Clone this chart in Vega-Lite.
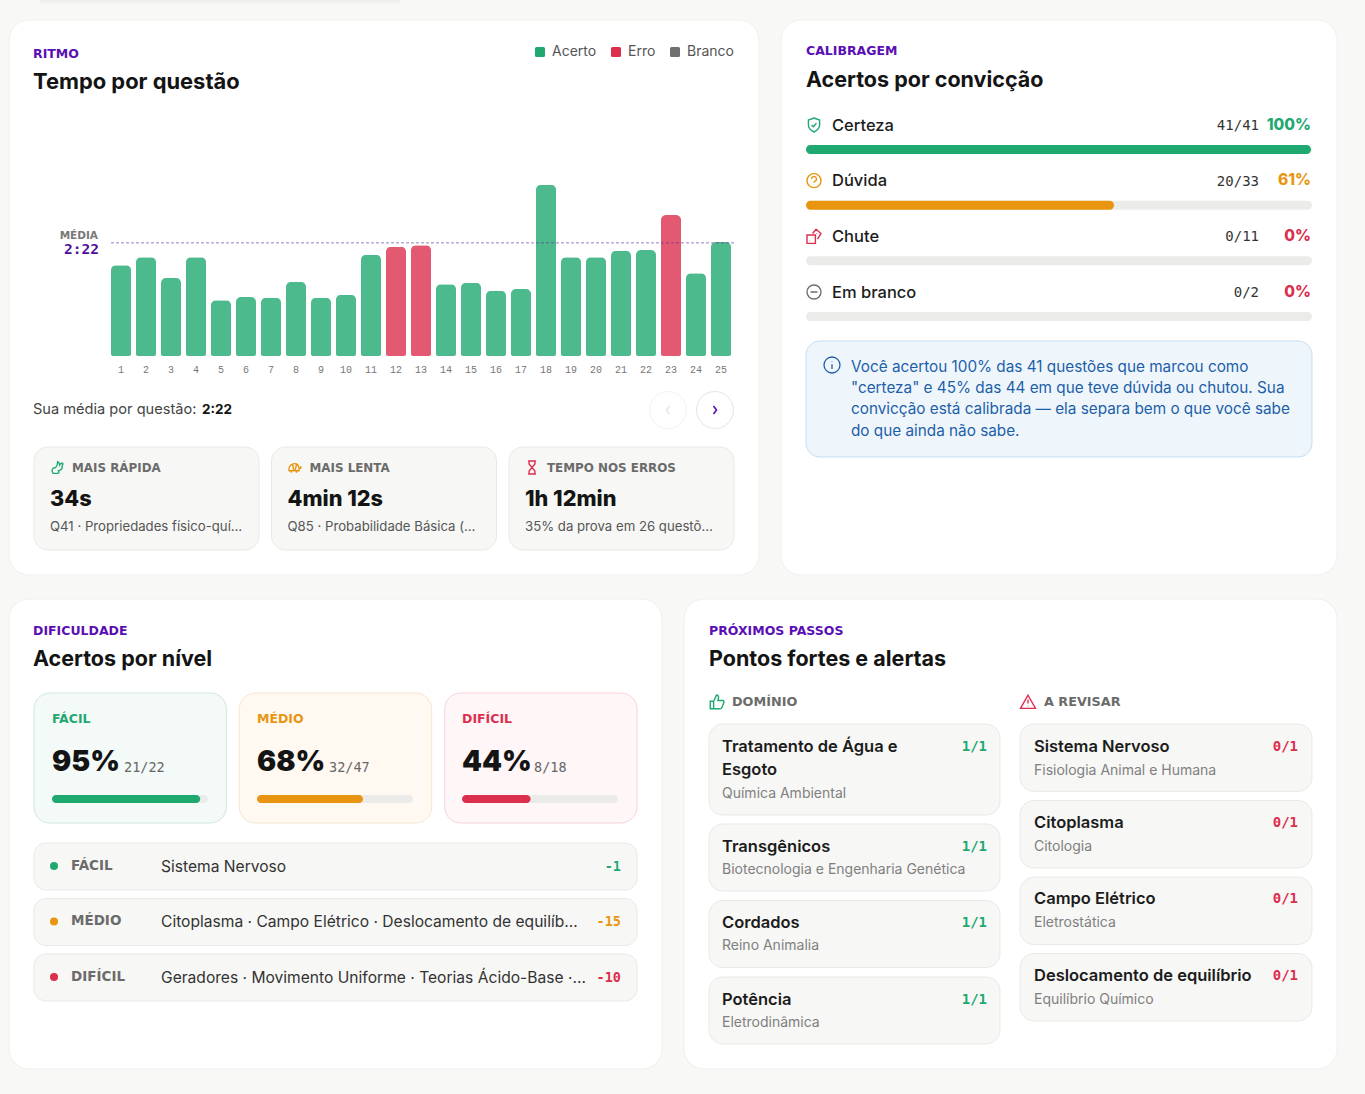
{
  "$schema": "https://vega.github.io/schema/vega-lite/v6.json",
  "autosize": "none",
  "padding": 0,
  "width": 1365,
  "height": 1094,
  "background": "#f8f8f6",
  "config": {
    "view": {"stroke": null},
    "axis": {"disable": true},
    "legend": {"disable": true},
    "scale": {"pointPadding": 0, "bandPaddingOuter": 0},
    "text": {"font": "Inter", "align": "left", "baseline": "middle"}
  },
  "resolve": {"scale": {"x": "independent", "y": "independent", "color": "independent", "fill": "independent", "stroke": "independent", "shape": "independent"}},
  "datasets": {
    "questoes": [
      {"q": "1", "segundos": 114, "resultado": "Acerto"},
      {"q": "2", "segundos": 124, "resultado": "Acerto"},
      {"q": "3", "segundos": 98, "resultado": "Acerto"},
      {"q": "4", "segundos": 124, "resultado": "Acerto"},
      {"q": "5", "segundos": 70, "resultado": "Acerto"},
      {"q": "6", "segundos": 74, "resultado": "Acerto"},
      {"q": "7", "segundos": 73, "resultado": "Acerto"},
      {"q": "8", "segundos": 93, "resultado": "Acerto"},
      {"q": "9", "segundos": 73, "resultado": "Acerto"},
      {"q": "10", "segundos": 77, "resultado": "Acerto"},
      {"q": "11", "segundos": 127, "resultado": "Acerto"},
      {"q": "12", "segundos": 137, "resultado": "Erro"},
      {"q": "13", "segundos": 139, "resultado": "Erro"},
      {"q": "14", "segundos": 90, "resultado": "Acerto"},
      {"q": "15", "segundos": 92, "resultado": "Acerto"},
      {"q": "16", "segundos": 82, "resultado": "Acerto"},
      {"q": "17", "segundos": 84, "resultado": "Acerto"},
      {"q": "18", "segundos": 215, "resultado": "Acerto"},
      {"q": "19", "segundos": 124, "resultado": "Acerto"},
      {"q": "20", "segundos": 124, "resultado": "Acerto"},
      {"q": "21", "segundos": 132, "resultado": "Acerto"},
      {"q": "22", "segundos": 133, "resultado": "Acerto"},
      {"q": "23", "segundos": 177, "resultado": "Erro"},
      {"q": "24", "segundos": 104, "resultado": "Acerto"},
      {"q": "25", "segundos": 143, "resultado": "Acerto"}
    ],
    "destaques": [
      {"rotulo": "MAIS RÁPIDA", "valor": "34s", "detalhe": "Q41 · Propriedades físico-quí…", "icone": "rapida"},
      {"rotulo": "MAIS LENTA", "valor": "4min 12s", "detalhe": "Q85 · Probabilidade Básica (…", "icone": "lenta"},
      {"rotulo": "TEMPO NOS ERROS", "valor": "1h 12min", "detalhe": "35% da prova em 26 questõ…", "icone": "erros"}
    ],
    "conviccao": [
      {"nome": "Certeza", "placar": "41/41", "pct": 100, "rotulo": "100%"},
      {"nome": "Dúvida", "placar": "20/33", "pct": 61, "rotulo": "61%"},
      {"nome": "Chute", "placar": "0/11", "pct": 0, "rotulo": "0%"},
      {"nome": "Em branco", "placar": "0/2", "pct": 0, "rotulo": "0%"}
    ],
    "niveis": [
      {"nivel": "FÁCIL", "pct": 95, "rotulo": "95%", "placar": "21/22", "temas": "Sistema Nervoso", "delta": "-1"},
      {"nivel": "MÉDIO", "pct": 68, "rotulo": "68%", "placar": "32/47", "temas": "Citoplasma · Campo Elétrico · Deslocamento de equilíb…", "delta": "-15"},
      {"nivel": "DIFÍCIL", "pct": 44, "rotulo": "44%", "placar": "8/18", "temas": "Geradores · Movimento Uniforme · Teorias Ácido-Base ·…", "delta": "-10"}
    ],
    "dominio": [
      {"tema": "Tratamento de Água e\nEsgoto", "area": "Química Ambiental", "placar": "1/1", "linhas": 2},
      {"tema": "Transgênicos", "area": "Biotecnologia e Engenharia Genética", "placar": "1/1", "linhas": 1},
      {"tema": "Cordados", "area": "Reino Animalia", "placar": "1/1", "linhas": 1},
      {"tema": "Potência", "area": "Eletrodinâmica", "placar": "1/1", "linhas": 1}
    ],
    "revisar": [
      {"tema": "Sistema Nervoso", "area": "Fisiologia Animal e Humana", "placar": "0/1"},
      {"tema": "Citoplasma", "area": "Citologia", "placar": "0/1"},
      {"tema": "Campo Elétrico", "area": "Eletrostática", "placar": "0/1"},
      {"tema": "Deslocamento de equilíbrio", "area": "Equilíbrio Químico", "placar": "0/1"}
    ]
  },
  "layer": [
    {"data": {"values": [{"c": "sombra"}]}, "mark": {"type": "rect", "color": {"gradient": "linear", "x1": 0, "y1": 0, "x2": 0, "y2": 1, "stops": [{"offset": 0, "color": "#eeeeed"}, {"offset": 1, "color": "#f8f8f6"}]}}, "encoding": {"x": {"field": "c", "type": "nominal", "scale": {"range": [40, 400]}}, "y": {"field": "c", "type": "nominal", "scale": {"range": [0, 6]}}}},
    {"data": {"values": [{"c": "ritmo"}]}, "mark": {"type": "rect", "fill": "#ffffff", "stroke": "#f0f0ee", "cornerRadius": 20}, "encoding": {"x": {"field": "c", "type": "nominal", "scale": {"range": [9, 759]}}, "y": {"field": "c", "type": "nominal", "scale": {"range": [20, 575]}}}},
    {"data": {"values": [{"c": "calibragem"}]}, "mark": {"type": "rect", "fill": "#ffffff", "stroke": "#f0f0ee", "cornerRadius": 20}, "encoding": {"x": {"field": "c", "type": "nominal", "scale": {"range": [781, 1337]}}, "y": {"field": "c", "type": "nominal", "scale": {"range": [20, 575]}}}},
    {"data": {"values": [{"c": "dificuldade"}]}, "mark": {"type": "rect", "fill": "#ffffff", "stroke": "#f0f0ee", "cornerRadius": 20}, "encoding": {"x": {"field": "c", "type": "nominal", "scale": {"range": [9, 662]}}, "y": {"field": "c", "type": "nominal", "scale": {"range": [599, 1069]}}}},
    {"data": {"values": [{"c": "passos"}]}, "mark": {"type": "rect", "fill": "#ffffff", "stroke": "#f0f0ee", "cornerRadius": 20}, "encoding": {"x": {"field": "c", "type": "nominal", "scale": {"range": [684, 1337]}}, "y": {"field": "c", "type": "nominal", "scale": {"range": [599, 1069]}}}},

    {"data": {"values": [{"t": "RITMO"}]}, "mark": {"type": "text", "font": "DejaVu Sans", "fontWeight": 700, "fontSize": 12.5, "color": "#5a0fb4"}, "encoding": {"text": {"field": "t"}, "x": {"field": "t", "type": "nominal", "scale": {"range": [33, 33]}}, "y": {"field": "t", "type": "nominal", "scale": {"range": [53.5, 53.5]}}}},
    {"data": {"values": [{"t": "Tempo por questão"}]}, "mark": {"type": "text", "fontWeight": 700, "fontSize": 21.9, "color": "#141414"}, "encoding": {"text": {"field": "t"}, "x": {"field": "t", "type": "nominal", "scale": {"range": [33, 33]}}, "y": {"field": "t", "type": "nominal", "scale": {"range": [82, 82]}}}},
    {"data": {"values": [{"t": "CALIBRAGEM"}]}, "mark": {"type": "text", "font": "DejaVu Sans", "fontWeight": 700, "fontSize": 12.5, "color": "#5a0fb4"}, "encoding": {"text": {"field": "t"}, "x": {"field": "t", "type": "nominal", "scale": {"range": [806, 806]}}, "y": {"field": "t", "type": "nominal", "scale": {"range": [50.5, 50.5]}}}},
    {"data": {"values": [{"t": "Acertos por convicção"}]}, "mark": {"type": "text", "fontWeight": 700, "fontSize": 21.5, "color": "#141414"}, "encoding": {"text": {"field": "t"}, "x": {"field": "t", "type": "nominal", "scale": {"range": [806, 806]}}, "y": {"field": "t", "type": "nominal", "scale": {"range": [81, 81]}}}},
    {"data": {"values": [{"t": "DIFICULDADE"}]}, "mark": {"type": "text", "font": "DejaVu Sans", "fontWeight": 700, "fontSize": 12.5, "color": "#5a0fb4"}, "encoding": {"text": {"field": "t"}, "x": {"field": "t", "type": "nominal", "scale": {"range": [33, 33]}}, "y": {"field": "t", "type": "nominal", "scale": {"range": [630.5, 630.5]}}}},
    {"data": {"values": [{"t": "Acertos por nível"}]}, "mark": {"type": "text", "fontWeight": 700, "fontSize": 21.5, "color": "#141414"}, "encoding": {"text": {"field": "t"}, "x": {"field": "t", "type": "nominal", "scale": {"range": [33, 33]}}, "y": {"field": "t", "type": "nominal", "scale": {"range": [659.5, 659.5]}}}},
    {"data": {"values": [{"t": "PRÓXIMOS PASSOS"}]}, "mark": {"type": "text", "font": "DejaVu Sans", "fontWeight": 700, "fontSize": 12.5, "color": "#5a0fb4"}, "encoding": {"text": {"field": "t"}, "x": {"field": "t", "type": "nominal", "scale": {"range": [709, 709]}}, "y": {"field": "t", "type": "nominal", "scale": {"range": [630.5, 630.5]}}}},
    {"data": {"values": [{"t": "Pontos fortes e alertas"}]}, "mark": {"type": "text", "fontWeight": 700, "fontSize": 21.5, "color": "#141414"}, "encoding": {"text": {"field": "t"}, "x": {"field": "t", "type": "nominal", "scale": {"range": [709, 709]}}, "y": {"field": "t", "type": "nominal", "scale": {"range": [659.5, 659.5]}}}},

    {"data": {"name": "questoes"}, "mark": {"type": "bar", "opacity": 0.8, "cornerRadiusTopLeft": 5, "cornerRadiusTopRight": 5, "cornerRadiusBottomLeft": 2, "cornerRadiusBottomRight": 2}, "encoding": {
      "x": {"field": "q", "type": "nominal", "sort": null, "scale": {"type": "band", "range": [108.5, 733.5], "paddingInner": 0.2, "paddingOuter": 0.1}},
      "y": {"field": "segundos", "type": "quantitative", "scale": {"domain": [0, 300], "range": [356, 117]}},
      "color": {"field": "resultado", "type": "nominal", "scale": {"domain": ["Acerto", "Erro", "Branco"], "range": ["#1fa971", "#dc2f4e", "#6f6f6f"]}, "legend": {"disable": false, "title": null, "orient": "none", "legendX": 533, "legendY": 45, "direction": "horizontal", "symbolType": "M-0.7,-1 H0.7 Q1,-1 1,-0.7 V0.7 Q1,1 0.7,1 H-0.7 Q-1,1 -1,0.7 V-0.7 Q-1,-1 -0.7,-1 Z", "symbolSize": 100, "symbolOpacity": 1, "symbolStrokeWidth": 0, "labelFont": "Inter", "labelFontSize": 14, "labelColor": "#555555", "columnPadding": 12, "labelOffset": 5, "gridAlign": "each"}}
    }},
    {"data": {"values": [{"rotulo": "média", "segundos": 142, "de": 0, "ate": 25}]}, "mark": {"type": "rule", "color": "#5a2a9a", "strokeDash": [3, 2], "strokeWidth": 1, "opacity": 0.6}, "encoding": {
      "x": {"field": "de", "type": "quantitative", "scale": {"domain": [0, 25], "range": [111, 734]}},
      "x2": {"field": "ate"},
      "y": {"field": "segundos", "type": "quantitative", "scale": {"domain": [0, 300], "range": [356, 117]}}
    }},
    {"data": {"values": [{"t": "MÉDIA"}]}, "mark": {"type": "text", "align": "right", "font": "DejaVu Sans", "fontWeight": 700, "fontSize": 10.5, "color": "#777777"}, "encoding": {"text": {"field": "t"}, "x": {"field": "t", "type": "nominal", "scale": {"range": [98, 98]}}, "y": {"field": "t", "type": "nominal", "scale": {"range": [235.5, 235.5]}}}},
    {"data": {"values": [{"t": "2:22"}]}, "mark": {"type": "text", "align": "right", "font": "DejaVu Sans Mono", "fontWeight": 700, "fontSize": 14.5, "color": "#4b0f9e"}, "encoding": {"text": {"field": "t"}, "x": {"field": "t", "type": "nominal", "scale": {"range": [99, 99]}}, "y": {"field": "t", "type": "nominal", "scale": {"range": [250, 250]}}}},
    {"data": {"name": "questoes"}, "mark": {"type": "text", "align": "center", "font": "Liberation Mono", "fontSize": 10, "color": "#777777"}, "encoding": {"text": {"field": "q"}, "x": {"field": "q", "type": "nominal", "sort": null, "scale": {"range": [121, 721]}}, "y": {"field": "q", "type": "nominal", "scale": {"range": [370, 370]}}}},
    {"data": {"values": [{"t": "Sua média por questão:"}]}, "mark": {"type": "text", "fontSize": 14.6, "color": "#444444"}, "encoding": {"text": {"field": "t"}, "x": {"field": "t", "type": "nominal", "scale": {"range": [33, 33]}}, "y": {"field": "t", "type": "nominal", "scale": {"range": [409.5, 409.5]}}}},
    {"data": {"values": [{"t": "2:22"}]}, "mark": {"type": "text", "fontSize": 13.5, "fontWeight": 700, "color": "#141414"}, "encoding": {"text": {"field": "t"}, "x": {"field": "t", "type": "nominal", "scale": {"range": [202, 202]}}, "y": {"field": "t", "type": "nominal", "scale": {"range": [409.5, 409.5]}}}},
    {"data": {"values": [{"botao": "anterior"}, {"botao": "proxima"}]}, "mark": {"type": "point", "shape": "circle", "size": 1369, "filled": true, "fill": "#ffffff", "strokeWidth": 1}, "encoding": {
      "x": {"field": "botao", "type": "nominal", "sort": null, "scale": {"range": [668, 715]}},
      "y": {"field": "botao", "type": "nominal", "scale": {"range": [410, 410]}},
      "stroke": {"field": "botao", "type": "nominal", "scale": {"domain": ["anterior", "proxima"], "range": ["#efefef", "#dcdcdc"]}}
    }},
    {"data": {"values": [{"botao": "anterior"}, {"botao": "proxima"}]}, "mark": {"type": "point", "filled": false, "size": 100, "strokeWidth": 1.6, "opacity": 1}, "encoding": {
      "x": {"field": "botao", "type": "nominal", "sort": null, "scale": {"range": [668, 715]}},
      "y": {"field": "botao", "type": "nominal", "scale": {"range": [410, 410]}},
      "shape": {"field": "botao", "type": "nominal", "scale": {"domain": ["anterior", "proxima"], "range": ["M0.3,-0.8 L-0.3,0 L0.3,0.8", "M-0.3,-0.8 L0.3,0 L-0.3,0.8"]}},
      "stroke": {"field": "botao", "type": "nominal", "scale": {"domain": ["anterior", "proxima"], "range": ["#e6e6e6", "#5a0fb4"]}}
    }},

    {"data": {"name": "destaques"}, "mark": {"type": "rect", "fill": "#f7f7f5", "stroke": "#e9e9e6", "cornerRadius": 14}, "encoding": {"x": {"field": "rotulo", "type": "nominal", "sort": null, "scale": {"type": "band", "range": [34, 734], "paddingInner": 0.0526}}, "y": {"datum": "caixa", "type": "nominal", "scale": {"type": "band", "range": [447, 550], "paddingInner": 0}}}},
    {"data": {"name": "destaques"}, "mark": {"type": "point", "filled": false, "size": 169, "strokeWidth": 1.4, "opacity": 1}, "encoding": {
      "x": {"field": "rotulo", "type": "nominal", "sort": null, "scale": {"range": [57, 532]}},
      "y": {"field": "rotulo", "type": "nominal", "scale": {"range": [467.5, 467.5]}},
      "shape": {"field": "icone", "type": "nominal", "scale": {"domain": ["rapida", "lenta", "erros"], "range": ["M-0.6,0.9 C-1,0.4 -0.6,0 -0.2,0 C0,-0.2 0.1,-0.4 0.1,-0.9 C0.4,-0.8 0.4,-0.5 0.4,-0.4 C0.6,-0.7 0.9,-0.7 0.9,-0.6 C0.9,-0.3 0.7,-0.2 0.8,0.1 C0.7,0.5 0.3,0.4 0.2,0.5 C0.4,0.7 0.3,0.9 0.1,0.9 Z", "M-0.9,0.5 C-0.9,-0.3 -0.4,-0.6 0,-0.6 C0.5,-0.6 0.7,-0.2 0.7,0.2 C0.9,0.2 1,0 1,-0.2 M-0.9,0.5 H0.7 V0.2 M-0.5,0.5 V0.8 M0.3,0.5 V0.8 M-0.3,-0.5 L-0.1,0.5 M0.3,-0.5 L0.1,0.5", "M-0.6,-1 H0.6 M-0.6,1 H0.6 M-0.45,-1 V-0.55 L0.45,0.55 V1 M0.45,-1 V-0.55 L-0.45,0.55 V1"]}},
      "stroke": {"field": "icone", "type": "nominal", "scale": {"domain": ["rapida", "lenta", "erros"], "range": ["#1fa971", "#e89611", "#dc2f4e"]}}
    }},
    {"data": {"name": "destaques"}, "mark": {"type": "text", "font": "DejaVu Sans", "fontWeight": 700, "fontSize": 11.9, "color": "#6b6b6b"}, "encoding": {"text": {"field": "rotulo"}, "x": {"field": "rotulo", "type": "nominal", "sort": null, "scale": {"range": [72, 547]}}, "y": {"field": "rotulo", "type": "nominal", "scale": {"range": [467.5, 467.5]}}}},
    {"data": {"name": "destaques"}, "mark": {"type": "text", "fontWeight": 800, "fontSize": 21.7, "color": "#141414"}, "encoding": {"text": {"field": "valor"}, "x": {"field": "rotulo", "type": "nominal", "sort": null, "scale": {"range": [50, 525]}}, "y": {"field": "rotulo", "type": "nominal", "scale": {"range": [499, 499]}}}},
    {"data": {"name": "destaques"}, "mark": {"type": "text", "fontSize": 13.2, "color": "#555555"}, "encoding": {"text": {"field": "detalhe"}, "x": {"field": "rotulo", "type": "nominal", "sort": null, "scale": {"range": [50, 525]}}, "y": {"field": "rotulo", "type": "nominal", "scale": {"range": [526.5, 526.5]}}}},

    {"data": {"name": "conviccao"}, "mark": {"type": "point", "filled": false, "size": 196, "strokeWidth": 1.4, "opacity": 1}, "encoding": {
      "x": {"field": "nome", "type": "nominal", "sort": null, "scale": {"range": [814, 814]}},
      "y": {"field": "nome", "type": "nominal", "sort": null, "scale": {"range": [125, 292]}},
      "shape": {"field": "nome", "type": "nominal", "scale": {"domain": ["Certeza", "Dúvida", "Chute", "Em branco"], "range": ["M0,-1 L0.8,-0.7 V0 C0.8,0.5 0.4,0.8 0,1 C-0.4,0.8 -0.8,0.5 -0.8,0 V-0.7 Z M-0.35,0 L-0.1,0.25 L0.35,-0.25", "M-1,0 A1,1 0 1,1 1,0 A1,1 0 1,1 -1,0 Z M-0.35,-0.25 A0.35,0.35 0 1,1 0.1,0.1 Q0,0.15 0,0.3 M0,0.55 V0.6", "M-1,-0.2 H0.2 V1 H-1 Z M-0.6,0.55 V0.6 M-0.2,0.2 V0.25 M-0.2,-0.4 L0.3,-1 L1,-0.4 L0.5,0.4 M0.4,-0.4 V-0.35", "M-1,0 A1,1 0 1,1 1,0 A1,1 0 1,1 -1,0 Z M-0.5,0 H0.5"]}},
      "stroke": {"field": "nome", "type": "nominal", "scale": {"domain": ["Certeza", "Dúvida", "Chute", "Em branco"], "range": ["#1fa971", "#e89611", "#dc2f4e", "#6f6f6f"]}}
    }},
    {"data": {"name": "conviccao"}, "mark": {"type": "text", "fontSize": 16.5, "fontWeight": 500, "color": "#1c1c1c"}, "encoding": {"text": {"field": "nome"}, "x": {"field": "nome", "type": "nominal", "scale": {"range": [832, 832]}}, "y": {"field": "nome", "type": "nominal", "sort": null, "scale": {"range": [125.5, 292.5]}}}},
    {"data": {"name": "conviccao"}, "mark": {"type": "text", "align": "right", "font": "DejaVu Sans Mono", "fontSize": 14, "color": "#333333"}, "encoding": {"text": {"field": "placar"}, "x": {"field": "nome", "type": "nominal", "scale": {"range": [1259, 1259]}}, "y": {"field": "nome", "type": "nominal", "sort": null, "scale": {"range": [126, 293]}}}},
    {"data": {"name": "conviccao"}, "mark": {"type": "text", "align": "right", "fontSize": 15.5, "fontWeight": 800}, "encoding": {"text": {"field": "rotulo"}, "x": {"field": "nome", "type": "nominal", "scale": {"range": [1311, 1311]}}, "y": {"field": "nome", "type": "nominal", "sort": null, "scale": {"range": [124.5, 291.5]}},
      "color": {"field": "nome", "type": "nominal", "scale": {"domain": ["Certeza", "Dúvida", "Chute", "Em branco"], "range": ["#1fa971", "#e89611", "#dc2f4e", "#dc2f4e"]}}
    }},
    {"data": {"name": "conviccao"}, "mark": {"type": "rect", "fill": "#ebebe9", "cornerRadius": 4.5}, "encoding": {"x": {"datum": "trilha", "type": "nominal", "scale": {"type": "band", "range": [806, 1312], "paddingInner": 0}}, "y": {"field": "nome", "type": "nominal", "sort": null, "scale": {"type": "band", "range": [145, 321], "paddingInner": 0.838}}}},
    {"data": {"name": "conviccao"}, "mark": {"type": "bar", "cornerRadius": 4.5}, "transform": [{"filter": "datum.pct > 0"}], "encoding": {
      "x": {"field": "pct", "type": "quantitative", "stack": null, "scale": {"domain": [0, 100], "range": [806, 1311]}},
      "y": {"field": "nome", "type": "nominal", "scale": {"type": "band", "domain": ["Certeza", "Dúvida", "Chute", "Em branco"], "range": [145, 321], "paddingInner": 0.838, "paddingOuter": 0}},
      "color": {"field": "nome", "type": "nominal", "scale": {"domain": ["Certeza", "Dúvida"], "range": ["#1fa971", "#e89611"]}}
    }},
    {"data": {"values": [{"t": "nota"}]}, "mark": {"type": "rect", "fill": "#eef6fc", "stroke": "#c5def2", "cornerRadius": 14}, "encoding": {"x": {"field": "t", "type": "nominal", "scale": {"range": [806, 1312]}}, "y": {"field": "t", "type": "nominal", "scale": {"range": [341, 457]}}}},
    {"data": {"values": [{"t": "info"}]}, "mark": {"type": "point", "filled": false, "size": 256, "shape": "M-1,0 A1,1 0 1,1 1,0 A1,1 0 1,1 -1,0 Z M0,-0.1 V0.5 M0,-0.5 V-0.45", "strokeWidth": 1.3, "color": "#1d5ea8", "opacity": 1}, "encoding": {"x": {"field": "t", "type": "nominal", "scale": {"range": [832, 832]}}, "y": {"field": "t", "type": "nominal", "scale": {"range": [365, 365]}}}},
    {"data": {"values": [{"linha": "Você acertou 100% das 41 questões que marcou como"}, {"linha": "\"certeza\" e 45% das 44 em que teve dúvida ou chutou. Sua"}, {"linha": "convicção está calibrada — ela separa bem o que você sabe"}, {"linha": "do que ainda não sabe."}]}, "mark": {"type": "text", "fontSize": 15.3, "color": "#1d5ea8"}, "encoding": {"text": {"field": "linha"}, "x": {"field": "linha", "type": "nominal", "scale": {"range": [851, 851]}}, "y": {"field": "linha", "type": "nominal", "sort": null, "scale": {"range": [366.5, 430.5]}}}},

    {"data": {"name": "niveis"}, "mark": {"type": "rect", "cornerRadius": 16}, "encoding": {
      "x": {"field": "nivel", "type": "nominal", "sort": null, "scale": {"type": "band", "range": [34, 637], "paddingInner": 0.0634}},
      "y": {"datum": "caixa", "type": "nominal", "scale": {"type": "band", "range": [693, 823], "paddingInner": 0}},
      "fill": {"field": "nivel", "type": "nominal", "scale": {"domain": ["FÁCIL", "MÉDIO", "DIFÍCIL"], "range": ["#f4faf8", "#fff9f2", "#fef6f7"]}},
      "stroke": {"field": "nivel", "type": "nominal", "scale": {"domain": ["FÁCIL", "MÉDIO", "DIFÍCIL"], "range": ["#cfe6df", "#f6e6cf", "#f5d3da"]}}
    }},
    {"data": {"name": "niveis"}, "mark": {"type": "text", "font": "DejaVu Sans", "fontWeight": 700, "fontSize": 12.5}, "encoding": {"text": {"field": "nivel"},
      "x": {"field": "nivel", "type": "nominal", "sort": null, "scale": {"range": [52, 462]}},
      "y": {"field": "nivel", "type": "nominal", "scale": {"range": [718.5, 718.5]}},
      "color": {"field": "nivel", "type": "nominal", "scale": {"domain": ["FÁCIL", "MÉDIO", "DIFÍCIL"], "range": ["#1fa971", "#e89611", "#dc2f4e"]}}
    }},
    {"data": {"name": "niveis"}, "mark": {"type": "text", "fontWeight": 900, "fontSize": 28.5, "color": "#141414"}, "encoding": {"text": {"field": "rotulo"}, "x": {"field": "nivel", "type": "nominal", "sort": null, "scale": {"range": [52, 462]}}, "y": {"field": "nivel", "type": "nominal", "scale": {"range": [762, 762]}}}},
    {"data": {"name": "niveis"}, "mark": {"type": "text", "font": "DejaVu Sans Mono", "fontSize": 13.5, "color": "#666666"}, "encoding": {"text": {"field": "placar"}, "x": {"field": "nivel", "type": "nominal", "sort": null, "scale": {"range": [124, 534]}}, "y": {"field": "nivel", "type": "nominal", "scale": {"range": [767.5, 767.5]}}}},
    {"data": {"name": "niveis"}, "mark": {"type": "rect", "fill": "#ebebe9", "cornerRadius": 4}, "encoding": {"x": {"field": "nivel", "type": "nominal", "sort": null, "scale": {"type": "band", "range": [52, 618], "paddingInner": 0.239}}, "y": {"datum": "trilha", "type": "nominal", "scale": {"type": "band", "range": [795, 803], "paddingInner": 0}}}},
    {"data": {"name": "niveis"}, "transform": [{"filter": "datum.nivel == 'FÁCIL'"}], "mark": {"type": "bar", "cornerRadius": 4, "color": "#1fa971"}, "encoding": {"x": {"field": "pct", "type": "quantitative", "stack": null, "scale": {"domain": [0, 100], "range": [52, 208]}}, "y": {"field": "nivel", "type": "nominal", "scale": {"type": "band", "range": [795, 803], "paddingInner": 0, "paddingOuter": 0}}}},
    {"data": {"name": "niveis"}, "transform": [{"filter": "datum.nivel == 'MÉDIO'"}], "mark": {"type": "bar", "cornerRadius": 4, "color": "#e89611"}, "encoding": {"x": {"field": "pct", "type": "quantitative", "stack": null, "scale": {"domain": [0, 100], "range": [257, 413]}}, "y": {"field": "nivel", "type": "nominal", "scale": {"type": "band", "range": [795, 803], "paddingInner": 0, "paddingOuter": 0}}}},
    {"data": {"name": "niveis"}, "transform": [{"filter": "datum.nivel == 'DIFÍCIL'"}], "mark": {"type": "bar", "cornerRadius": 4, "color": "#dc2f4e"}, "encoding": {"x": {"field": "pct", "type": "quantitative", "stack": null, "scale": {"domain": [0, 100], "range": [462, 618]}}, "y": {"field": "nivel", "type": "nominal", "scale": {"type": "band", "range": [795, 803], "paddingInner": 0, "paddingOuter": 0}}}},

    {"data": {"name": "niveis"}, "mark": {"type": "rect", "fill": "#f7f7f5", "stroke": "#e9e9e6", "cornerRadius": 12}, "encoding": {"x": {"datum": "linha", "type": "nominal", "scale": {"type": "band", "range": [34, 637], "paddingInner": 0}}, "y": {"field": "nivel", "type": "nominal", "sort": null, "scale": {"type": "band", "range": [843, 1001], "paddingInner": 0.153}}}},
    {"data": {"name": "niveis"}, "mark": {"type": "point", "filled": true, "size": 64, "opacity": 1}, "encoding": {
      "x": {"field": "nivel", "type": "nominal", "scale": {"range": [54, 54]}},
      "y": {"field": "nivel", "type": "nominal", "sort": null, "scale": {"range": [866, 977]}},
      "color": {"field": "nivel", "type": "nominal", "scale": {"domain": ["FÁCIL", "MÉDIO", "DIFÍCIL"], "range": ["#1fa971", "#e89611", "#dc2f4e"]}}
    }},
    {"data": {"name": "niveis"}, "mark": {"type": "text", "font": "DejaVu Sans", "fontWeight": 700, "fontSize": 13.5, "color": "#6b6b6b"}, "encoding": {"text": {"field": "nivel"}, "x": {"field": "nivel", "type": "nominal", "scale": {"range": [71, 71]}}, "y": {"field": "nivel", "type": "nominal", "sort": null, "scale": {"range": [865.5, 976.5]}}}},
    {"data": {"name": "niveis"}, "mark": {"type": "text", "fontSize": 15.6, "color": "#333333"}, "encoding": {"text": {"field": "temas"}, "x": {"field": "nivel", "type": "nominal", "scale": {"range": [161, 161]}}, "y": {"field": "nivel", "type": "nominal", "sort": null, "scale": {"range": [866.5, 977.5]}}}},
    {"data": {"name": "niveis"}, "mark": {"type": "text", "align": "right", "font": "DejaVu Sans Mono", "fontWeight": 700, "fontSize": 13.5}, "encoding": {"text": {"field": "delta"},
      "x": {"field": "nivel", "type": "nominal", "scale": {"range": [621, 621]}},
      "y": {"field": "nivel", "type": "nominal", "sort": null, "scale": {"range": [866.5, 977.5]}},
      "color": {"field": "nivel", "type": "nominal", "scale": {"domain": ["FÁCIL", "MÉDIO", "DIFÍCIL"], "range": ["#1fa971", "#e89611", "#dc2f4e"]}}
    }},

    {"data": {"values": [{"secao": "dominio"}, {"secao": "revisar"}]}, "mark": {"type": "point", "filled": false, "size": 225, "strokeWidth": 1.4, "opacity": 1}, "encoding": {
      "x": {"field": "secao", "type": "nominal", "sort": null, "scale": {"range": [717, 1028]}},
      "y": {"field": "secao", "type": "nominal", "scale": {"range": [702, 702]}},
      "shape": {"field": "secao", "type": "nominal", "scale": {"domain": ["dominio", "revisar"], "range": ["M-0.9,-0.1 H-0.45 V0.9 H-0.9 Z M-0.45,-0.1 L-0.05,-0.95 Q0.25,-0.9 0.2,-0.55 L0.12,-0.2 H0.8 Q1,-0.15 0.9,0.1 L0.65,0.75 Q0.6,0.9 0.4,0.9 H-0.45", "M0,-0.9 L1,0.85 H-1 Z M0,-0.35 V0.2 M0,0.5 V0.55"]}},
      "stroke": {"field": "secao", "type": "nominal", "scale": {"domain": ["dominio", "revisar"], "range": ["#1fa971", "#dc2f4e"]}}
    }},
    {"data": {"values": [{"t": "DOMÍNIO"}, {"t": "A REVISAR"}]}, "mark": {"type": "text", "font": "DejaVu Sans", "fontWeight": 700, "fontSize": 12.8, "color": "#6b6b6b"}, "encoding": {"text": {"field": "t"}, "x": {"field": "t", "type": "nominal", "sort": null, "scale": {"range": [732, 1044]}}, "y": {"field": "t", "type": "nominal", "scale": {"range": [701.5, 701.5]}}}},

    {"data": {"name": "dominio"}, "transform": [{"filter": "datum.linhas == 2"}], "mark": {"type": "rect", "fill": "#f7f7f5", "stroke": "#e9e9e6", "cornerRadius": 14}, "encoding": {"x": {"field": "area", "type": "nominal", "scale": {"range": [709, 1000]}}, "y": {"field": "area", "type": "nominal", "scale": {"range": [724, 815]}}}},
    {"data": {"name": "dominio"}, "transform": [{"filter": "datum.linhas == 1"}], "mark": {"type": "rect", "fill": "#f7f7f5", "stroke": "#e9e9e6", "cornerRadius": 14}, "encoding": {"x": {"datum": "caixa", "type": "nominal", "scale": {"type": "band", "range": [709, 1000], "paddingInner": 0}}, "y": {"field": "area", "type": "nominal", "sort": null, "scale": {"type": "band", "range": [824, 1044], "paddingInner": 0.124}}}},
    {"data": {"name": "dominio"}, "transform": [{"filter": "datum.linhas == 2"}], "mark": {"type": "text", "fontSize": 16.5, "fontWeight": 600, "color": "#1c1c1c", "lineBreak": "\n", "lineHeight": 23}, "encoding": {"text": {"field": "tema"}, "x": {"field": "area", "type": "nominal", "scale": {"range": [722, 722]}}, "y": {"field": "area", "type": "nominal", "scale": {"range": [746.5, 746.5]}}}},
    {"data": {"name": "dominio"}, "transform": [{"filter": "datum.linhas == 1"}], "mark": {"type": "text", "fontSize": 16.5, "fontWeight": 600, "color": "#1c1c1c"}, "encoding": {"text": {"field": "tema"}, "x": {"field": "area", "type": "nominal", "scale": {"range": [722, 722]}}, "y": {"field": "area", "type": "nominal", "sort": null, "scale": {"range": [846.5, 999.5]}}}},
    {"data": {"name": "dominio"}, "mark": {"type": "text", "fontSize": 14, "color": "#808080"}, "encoding": {"text": {"field": "area"}, "x": {"field": "area", "type": "nominal", "scale": {"range": [722, 722]}}, "y": {"field": "area", "type": "nominal", "sort": null, "scale": {"range": [793.5, 1022.5]}}}},
    {"data": {"name": "dominio"}, "transform": [{"filter": "datum.linhas == 2"}], "mark": {"type": "text", "align": "right", "font": "DejaVu Sans Mono", "fontWeight": 700, "fontSize": 14, "color": "#1fa971"}, "encoding": {"text": {"field": "placar"}, "x": {"field": "area", "type": "nominal", "scale": {"range": [987, 987]}}, "y": {"field": "area", "type": "nominal", "scale": {"range": [746.5, 746.5]}}}},
    {"data": {"name": "dominio"}, "transform": [{"filter": "datum.linhas == 1"}], "mark": {"type": "text", "align": "right", "font": "DejaVu Sans Mono", "fontWeight": 700, "fontSize": 14, "color": "#1fa971"}, "encoding": {"text": {"field": "placar"}, "x": {"field": "area", "type": "nominal", "scale": {"range": [987, 987]}}, "y": {"field": "area", "type": "nominal", "sort": null, "scale": {"range": [846.5, 999.5]}}}},

    {"data": {"name": "revisar"}, "mark": {"type": "rect", "fill": "#f7f7f5", "stroke": "#e9e9e6", "cornerRadius": 14}, "encoding": {"x": {"datum": "caixa", "type": "nominal", "scale": {"type": "band", "range": [1020, 1312], "paddingInner": 0}}, "y": {"field": "area", "type": "nominal", "sort": null, "scale": {"type": "band", "range": [724, 1021], "paddingInner": 0.12}}}},
    {"data": {"name": "revisar"}, "mark": {"type": "text", "fontSize": 16.5, "fontWeight": 600, "color": "#1c1c1c"}, "encoding": {"text": {"field": "tema"}, "x": {"field": "area", "type": "nominal", "scale": {"range": [1034, 1034]}}, "y": {"field": "area", "type": "nominal", "sort": null, "scale": {"range": [746.5, 975.5]}}}},
    {"data": {"name": "revisar"}, "mark": {"type": "text", "fontSize": 14, "color": "#808080"}, "encoding": {"text": {"field": "area"}, "x": {"field": "area", "type": "nominal", "scale": {"range": [1034, 1034]}}, "y": {"field": "area", "type": "nominal", "sort": null, "scale": {"range": [770.5, 999.5]}}}},
    {"data": {"name": "revisar"}, "mark": {"type": "text", "align": "right", "font": "DejaVu Sans Mono", "fontWeight": 700, "fontSize": 14, "color": "#dc2f4e"}, "encoding": {"text": {"field": "placar"}, "x": {"field": "area", "type": "nominal", "scale": {"range": [1298, 1298]}}, "y": {"field": "area", "type": "nominal", "sort": null, "scale": {"range": [746.5, 975.5]}}}}
  ]
}
